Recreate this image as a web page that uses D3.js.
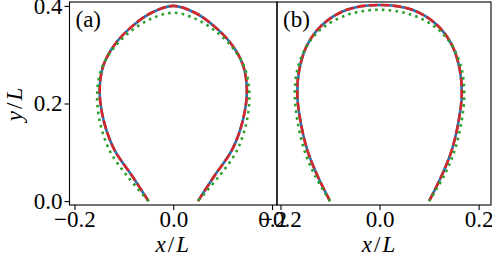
<!DOCTYPE html>
<html>
<head>
<meta charset="utf-8">
<script src="https://cdn.jsdelivr.net/npm/d3@7"></script>
<style>
  body { margin: 0; background: #fff; }
  text { font-family: "Liberation Serif", serif; fill: #000; }
</style>
</head>
<body>
<svg></svg>
<script>
const width = 492;
const height = 260;
const fontSize = "23px";

// panel (a): solid model (blue), dashed model (red), dotted model (green)
const aModelX = [-0.05, -0.0845, -0.119, -0.141, -0.149, -0.141, -0.119, -0.0845, -0.044, 0, 0.044, 0.0845, 0.119, 0.141, 0.149, 0.141, 0.119, 0.0845, 0.05];
const aModelY = [0, 0.0535, 0.105, 0.166, 0.228, 0.279, 0.320, 0.357, 0.386, 0.400, 0.386, 0.357, 0.320, 0.279, 0.228, 0.166, 0.105, 0.0535, 0];
const aDotX = [-0.05, -0.092, -0.127, -0.148, -0.154, -0.145, -0.122, -0.086, -0.044, 0, 0.044, 0.086, 0.122, 0.145, 0.154, 0.148, 0.127, 0.092, 0.05];
const aDotY = [0, 0.05, 0.1, 0.16, 0.22, 0.272, 0.312, 0.348, 0.374, 0.386, 0.374, 0.348, 0.312, 0.272, 0.22, 0.16, 0.1, 0.05, 0];

// panel (b)
const bModelX = [-0.1, -0.126, -0.146, -0.160, -0.166, -0.162, -0.146, -0.116, -0.066, 0, 0.066, 0.116, 0.146, 0.162, 0.166, 0.160, 0.146, 0.126, 0.1];
const bModelY = [0, 0.0535, 0.105, 0.166, 0.218, 0.269, 0.320, 0.361, 0.392, 0.402, 0.392, 0.361, 0.320, 0.269, 0.218, 0.166, 0.105, 0.0535, 0];
const bDotX = [-0.1, -0.131, -0.152, -0.166, -0.171, -0.166, -0.148, -0.116, -0.064, 0, 0.064, 0.116, 0.148, 0.166, 0.171, 0.166, 0.152, 0.131, 0.1];
const bDotY = [0, 0.0535, 0.105, 0.166, 0.218, 0.269, 0.316, 0.354, 0.382, 0.392, 0.382, 0.354, 0.316, 0.269, 0.218, 0.166, 0.105, 0.0535, 0];

const xTicks = [-0.2, 0.0, 0.2];
const yTicks = [0.0, 0.2, 0.4];
const panelLabels = ["(a)", "(b)"];

const svg = d3.select("svg").attr("width", width).attr("height", height);

const yScale = d3.scaleLinear().domain([-0.008, 0.408]).range([205, 2]);

const panels = [
  {label: panelLabels[0], domain: [-0.21, 0.21], range: [69.5, 277], mx: aModelX, my: aModelY, dx: aDotX, dy: aDotY},
  {label: panelLabels[1], domain: [-0.207, 0.225], range: [277, 491], mx: bModelX, my: bModelY, dx: bDotX, dy: bDotY}
];

const fmt = d => (d < 0 ? "\u2212" : "") + Math.abs(d).toFixed(1);

panels.forEach((p, i) => {
  const xScale = d3.scaleLinear().domain(p.domain).range(p.range);
  const g = svg.append("g");

  const line = d3.line()
    .x(d => xScale(d[0]))
    .y(d => yScale(d[1]))
    .curve(d3.curveCatmullRom.alpha(0.5));

  const model = d3.zip(p.mx, p.my);
  const dots = d3.zip(p.dx, p.dy);

  g.append("path").attr("d", line(model))
    .attr("fill", "none").attr("stroke", "#1f77b4").attr("stroke-width", 2.6);
  g.append("path").attr("d", line(model))
    .attr("fill", "none").attr("stroke", "#d62728").attr("stroke-width", 2.6)
    .attr("stroke-dasharray", "9,3");
  g.append("path").attr("d", line(dots))
    .attr("fill", "none").attr("stroke", "#2ca02c").attr("stroke-width", 2.6)
    .attr("stroke-dasharray", "2.6,4.2");

  // frame
  g.append("rect")
    .attr("x", p.range[0]).attr("y", 2)
    .attr("width", p.range[1] - p.range[0]).attr("height", 203)
    .attr("fill", "none").attr("stroke", "#000").attr("stroke-width", 1.1);

  const xAxis = d3.axisBottom(xScale).tickValues(xTicks).tickFormat(fmt).tickSize(5).tickPadding(1);
  const gx = g.append("g").attr("transform", "translate(0,205)").call(xAxis);
  gx.select(".domain").remove();
  gx.selectAll("line").attr("stroke-width", 1.1);
  gx.selectAll("text").style("font-size", fontSize).attr("fill", "#000");

  if (i === 0) {
    const yAxis = d3.axisLeft(yScale).tickValues(yTicks).tickFormat(d => d.toFixed(1)).tickSize(5).tickPadding(2);
    const gy = g.append("g").attr("transform", `translate(${p.range[0]},0)`).call(yAxis);
    gy.select(".domain").remove();
    gy.selectAll("line").attr("stroke-width", 1.1);
    gy.selectAll("text").style("font-size", fontSize).attr("fill", "#000");

    g.append("text")
      .attr("transform", `translate(22,${yScale(0.2)}) rotate(-90)`)
      .attr("text-anchor", "middle")
      .style("font-size", fontSize)
      .style("letter-spacing", "2px")
      .html('<tspan font-style="italic">y</tspan>/<tspan font-style="italic">L</tspan>');
  }

  g.append("text")
    .attr("x", xScale(0)).attr("y", 252)
    .attr("text-anchor", "middle")
    .style("font-size", fontSize)
    .style("letter-spacing", "2px")
    .html('<tspan font-style="italic">x</tspan>/<tspan font-style="italic">L</tspan>');

  g.append("text")
    .attr("x", p.range[0] + 6).attr("y", 27)
    .style("font-size", fontSize)
    .text(p.label);
});
</script>
</body>
</html>
